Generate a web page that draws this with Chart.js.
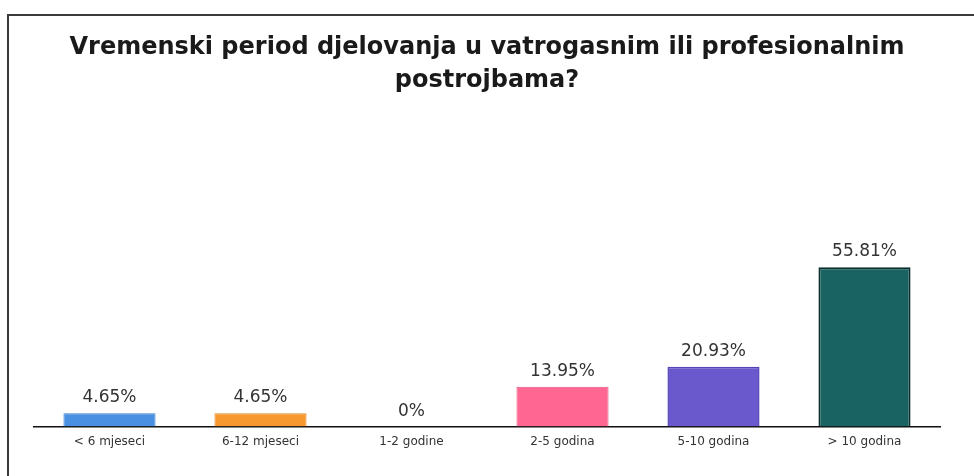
<!DOCTYPE html>
<html>
<head>
<meta charset="utf-8">
<script src="https://cdn.jsdelivr.net/npm/chart.js@4.4.1/dist/chart.umd.min.js"></script>
<style>
  html, body { margin: 0; padding: 0; background: #fff; }
  #wrap { position: relative; width: 974px; height: 476px; overflow: hidden; }
  #frame { position: absolute; left: 7px; top: 14px; right: -10px; bottom: -10px;
           border-left: 2px solid #3a3a3a; border-top: 2px solid #3a3a3a; }
  canvas { position: absolute; left: 0; top: 0; }
</style>
</head>
<body>
<div id="wrap">
  <div id="frame"></div>
  <canvas id="chart" width="974" height="476"></canvas>
</div>
<script>
/* bar chart: Vremenski period djelovanja */
const labels = ['< 6 mjeseci', '6-12 mjeseci', '1-2 godine', '2-5 godina', '5-10 godina', '> 10 godina'];
const values = [4.65, 4.65, 0, 13.95, 20.93, 55.81];
const barColors = ['#4a90e2', '#f7982f', '#9e9e9e', '#ff6691', '#6a58cd', '#1a6363'];
const barBorders = ['#3b7fd0', '#e08520', '#8a8a8a', '#e85580', '#5445b5', '#0b2f2d'];

const C = {
  text:  '#1a1a1a',
  label: '#333333',
  axis:  '#111111',
};

// ── value labels above bars ───────────────────────
const valueLabels = {
  id: 'valueLabels',
  afterDatasetsDraw(chart) {
    const { ctx } = chart;
    const meta = chart.getDatasetMeta(0);
    ctx.save();
    ctx.font = '17px "DejaVu Sans"';
    ctx.fillStyle = C.label;
    ctx.textAlign = 'center';
    ctx.textBaseline = 'bottom';
    meta.data.forEach((bar, i) => {
      ctx.fillText(values[i] + '%', bar.x, bar.y - 7);
    });
    ctx.restore();
  },
};

new Chart(document.getElementById('chart'), {
  type: 'bar',
  data: {
    labels,
    datasets: [{
      data: values,
      backgroundColor: barColors,
      borderColor: barBorders,
      borderWidth: [1, 1, 0, 1, 1.5, 2],
      borderSkipped: 'bottom',
      categoryPercentage: 1,
      barPercentage: 0.61,
    }],
  },
  options: {
    responsive: false,
    animation: false,
    layout: { padding: { left: 34, right: 34, top: 0, bottom: 27 } },
    plugins: {
      legend: { display: false },
      tooltip: { enabled: false },
      title: {
        display: true,
        text: ['Vremenski period djelovanja u vatrogasnim ili profesionalnim', 'postrojbama?'],
        color: C.text,
        font: { family: 'DejaVu Sans', size: 24, weight: 'bold', lineHeight: 1.38 },
        padding: { top: 31, bottom: 44 },
      },
    },
    scales: {
      x: {
        grid: { display: false },
        border: { display: true, color: C.axis, width: 1.5 },
        ticks: { color: C.label, font: { family: 'DejaVu Sans', size: 12 }, padding: 0 },
      },
      y: {
        display: false,
        min: 0,
        max: 100,
      },
    },
  },
  plugins: [valueLabels],
});
</script>
</body>
</html>
